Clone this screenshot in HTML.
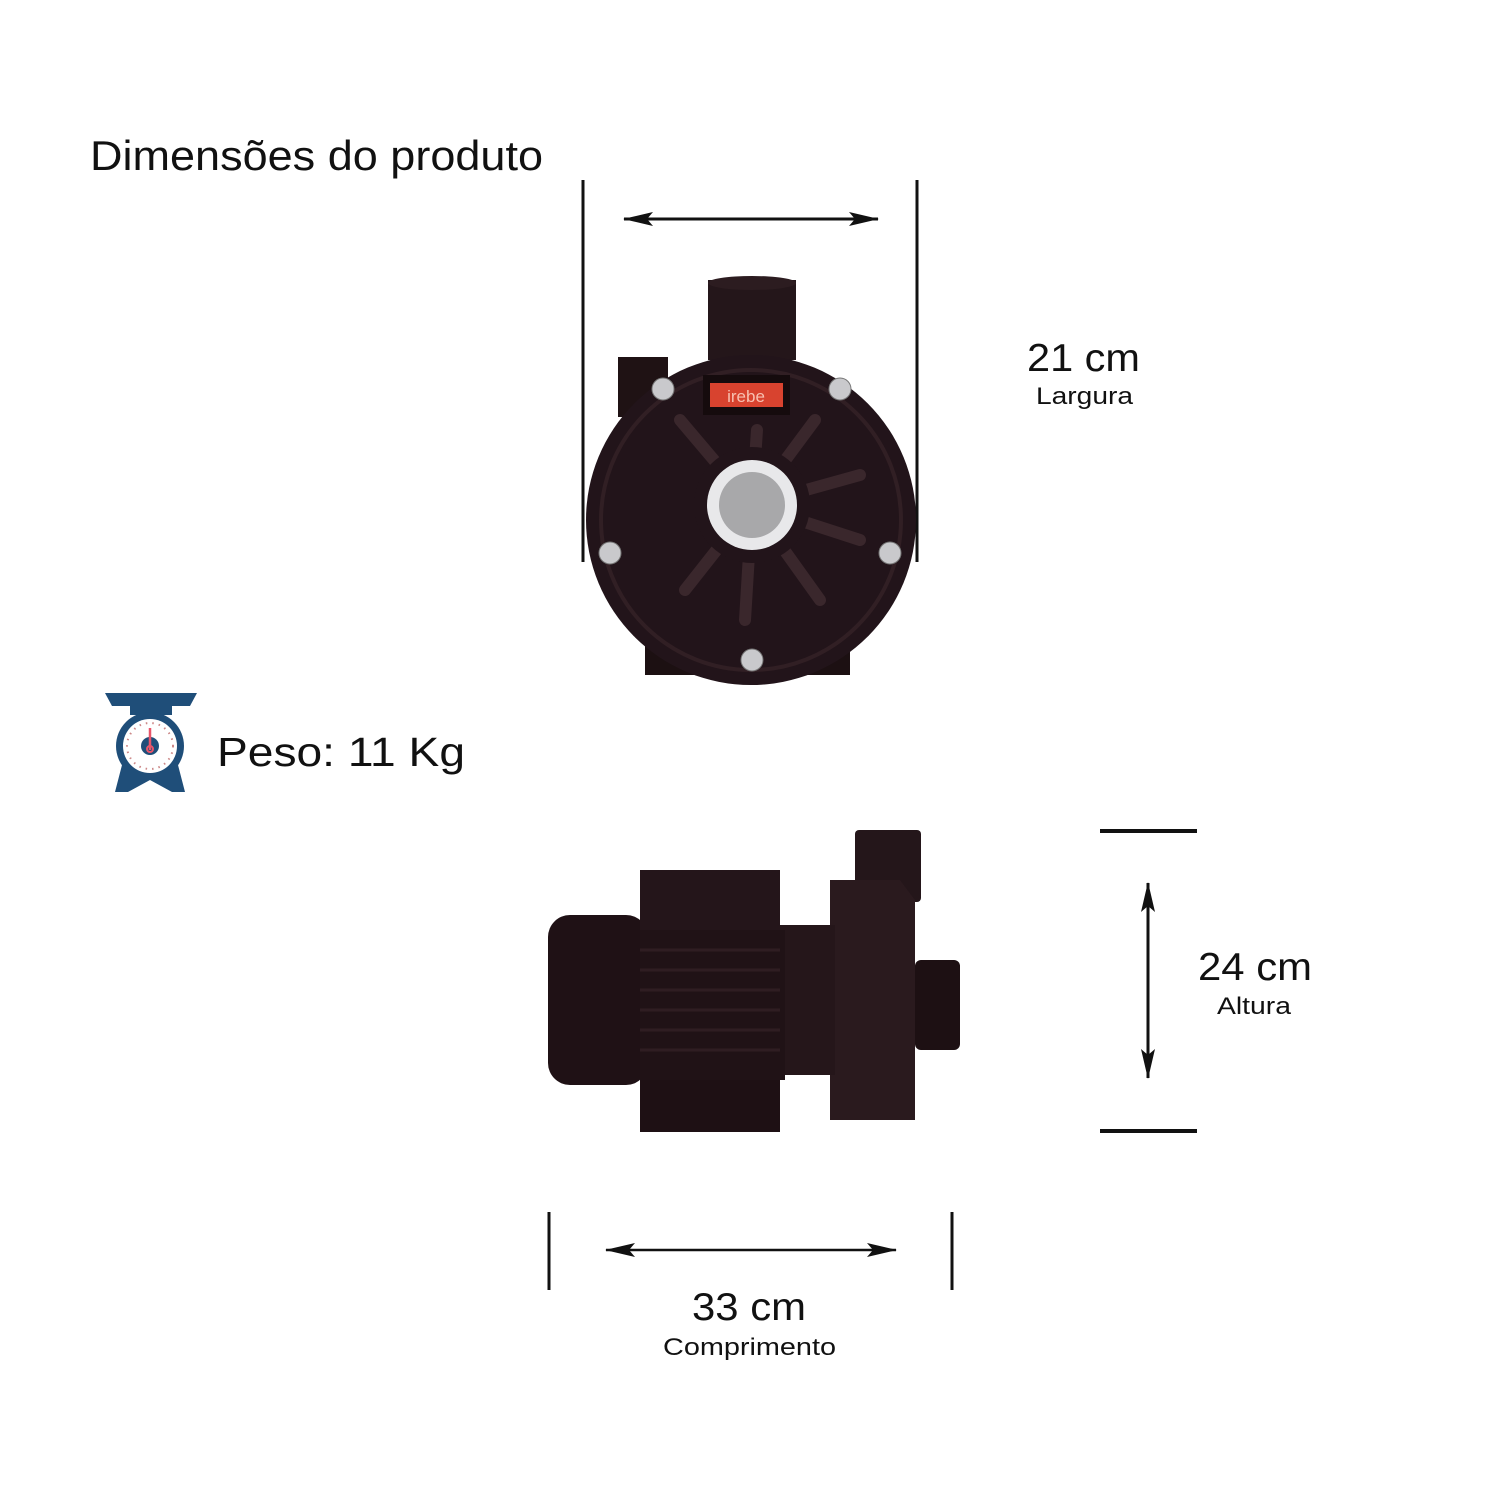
<!DOCTYPE html>
<html><head><meta charset="utf-8"><style>
html,body{margin:0;padding:0;background:#fff;}
svg{display:block;font-family:"Liberation Sans",sans-serif;}
</style></head><body>
<svg width="1500" height="1500" viewBox="0 0 1500 1500" xmlns="http://www.w3.org/2000/svg">
<defs>
<marker id="ah2" viewBox="0 0 30 14" refX="29" refY="7" markerWidth="30" markerHeight="14" orient="auto-start-reverse" markerUnits="userSpaceOnUse"><path d="M0,0 L30,7 L0,14 L6,7 Z" fill="#111"/></marker>
</defs>
<text x="90" y="170" font-size="42" fill="#111" textLength="453" lengthAdjust="spacingAndGlyphs">Dimensões do produto</text>

<!-- top dims -->
<line x1="583" y1="180" x2="583" y2="562" stroke="#111" stroke-width="3"/>
<line x1="917" y1="180" x2="917" y2="562" stroke="#111" stroke-width="3"/>
<line x1="624" y1="219" x2="878" y2="219" stroke="#111" stroke-width="3" marker-start="url(#ah2)" marker-end="url(#ah2)"/>
<text x="1027" y="371" font-size="39" fill="#111" textLength="113" lengthAdjust="spacingAndGlyphs">21 cm</text>
<text x="1036" y="404" font-size="24" fill="#111" textLength="97" lengthAdjust="spacingAndGlyphs">Largura</text>

<!-- front pump -->
<rect x="645" y="640" width="205" height="35" fill="#1c1012"/>
<rect x="618" y="357" width="50" height="60" fill="#1f1214"/>
<rect x="708" y="280" width="88" height="80" fill="#24161a"/>
<ellipse cx="752" cy="283" rx="44" ry="7" fill="#2c1c20"/>
<circle cx="751" cy="520" r="165" fill="#22141a"/>
<circle cx="751" cy="520" r="150" fill="none" stroke="#311f24" stroke-width="4"/>
<g stroke="#3a272c" stroke-width="12" stroke-linecap="round">
<line x1="752" y1="505" x2="680" y2="420"/><line x1="752" y1="505" x2="757" y2="430"/><line x1="752" y1="505" x2="815" y2="420"/>
<line x1="752" y1="505" x2="860" y2="475"/><line x1="752" y1="505" x2="860" y2="540"/><line x1="752" y1="505" x2="820" y2="600"/>
<line x1="752" y1="505" x2="745" y2="620"/><line x1="752" y1="505" x2="685" y2="590"/>
</g>
<circle cx="752" cy="505" r="58" fill="#22141a"/>
<rect x="703" y="375" width="87" height="40" fill="#150b0d"/>
<rect x="710" y="383" width="73" height="24" fill="#d8432f"/>
<text x="746" y="402" font-size="17" text-anchor="middle" fill="#f7c0b0">irebe</text>
<circle cx="752" cy="505" r="45" fill="#e8e8ea"/>
<circle cx="752" cy="505" r="33" fill="#a8a8aa"/>
<g fill="#c9c9cc" stroke="#777" stroke-width="1">
<circle cx="663" cy="389" r="11"/><circle cx="840" cy="389" r="11"/><circle cx="610" cy="553" r="11"/><circle cx="890" cy="553" r="11"/><circle cx="752" cy="660" r="11"/>
</g>

<!-- scale icon -->
<g fill="#1f4e79">
<path d="M105,693 L197,693 L190,706 L112,706 Z"/>
<rect x="130" y="705" width="42" height="10"/>
<circle cx="150" cy="746" r="34"/>
<path d="M122,765 L178,765 L185,792 L172,792 L150,780 L128,792 L115,792 Z"/>
</g>
<circle cx="150" cy="746" r="27" fill="#fff"/>
<circle cx="150" cy="746" r="23" fill="none" stroke="#c88" stroke-width="2" stroke-dasharray="1.5 5"/>
<circle cx="150" cy="746" r="9" fill="#1f4e79"/>
<line x1="150" y1="728" x2="150" y2="750" stroke="#e8556a" stroke-width="2.5"/>
<circle cx="150" cy="749" r="3" fill="none" stroke="#e8556a" stroke-width="2"/>
<text x="217" y="766" font-size="41" fill="#111" textLength="248" lengthAdjust="spacingAndGlyphs">Peso: 11 Kg</text>

<!-- side pump -->
<rect x="855" y="830" width="66" height="72" rx="4" fill="#24161a"/>
<path d="M830,880 L900,880 L915,900 L915,1120 L830,1120 Z" fill="#2a1a1e"/>
<rect x="780" y="925" width="55" height="150" fill="#25161a"/>
<rect x="915" y="960" width="45" height="90" rx="6" fill="#1d1013"/>
<rect x="548" y="915" width="100" height="170" rx="22" fill="#1f1115"/>
<rect x="640" y="870" width="140" height="60" fill="#24151a"/>
<rect x="640" y="930" width="145" height="150" fill="#201216"/>
<g stroke="#2f1d22" stroke-width="3">
<line x1="640" y1="950" x2="780" y2="950"/><line x1="640" y1="970" x2="780" y2="970"/><line x1="640" y1="990" x2="780" y2="990"/>
<line x1="640" y1="1010" x2="780" y2="1010"/><line x1="640" y1="1030" x2="780" y2="1030"/><line x1="640" y1="1050" x2="780" y2="1050"/>
</g>
<rect x="640" y="1080" width="140" height="52" fill="#1e1014"/>

<!-- right dims -->
<line x1="1100" y1="831" x2="1197" y2="831" stroke="#111" stroke-width="4"/>
<line x1="1100" y1="1131" x2="1197" y2="1131" stroke="#111" stroke-width="4"/>
<line x1="1148" y1="883" x2="1148" y2="1078" stroke="#111" stroke-width="3" marker-start="url(#ah2)" marker-end="url(#ah2)"/>
<text x="1198" y="980" font-size="39" fill="#111" textLength="114" lengthAdjust="spacingAndGlyphs">24 cm</text>
<text x="1217" y="1014" font-size="24" fill="#111" textLength="74" lengthAdjust="spacingAndGlyphs">Altura</text>

<!-- bottom dims -->
<line x1="549" y1="1212" x2="549" y2="1290" stroke="#111" stroke-width="3"/>
<line x1="952" y1="1212" x2="952" y2="1290" stroke="#111" stroke-width="3"/>
<line x1="606" y1="1250" x2="896" y2="1250" stroke="#111" stroke-width="2.5" marker-start="url(#ah2)" marker-end="url(#ah2)"/>
<text x="692" y="1320" font-size="39" fill="#111" textLength="114" lengthAdjust="spacingAndGlyphs">33 cm</text>
<text x="663" y="1355" font-size="24" fill="#111" textLength="173" lengthAdjust="spacingAndGlyphs">Comprimento</text>
</svg>
</body></html>
